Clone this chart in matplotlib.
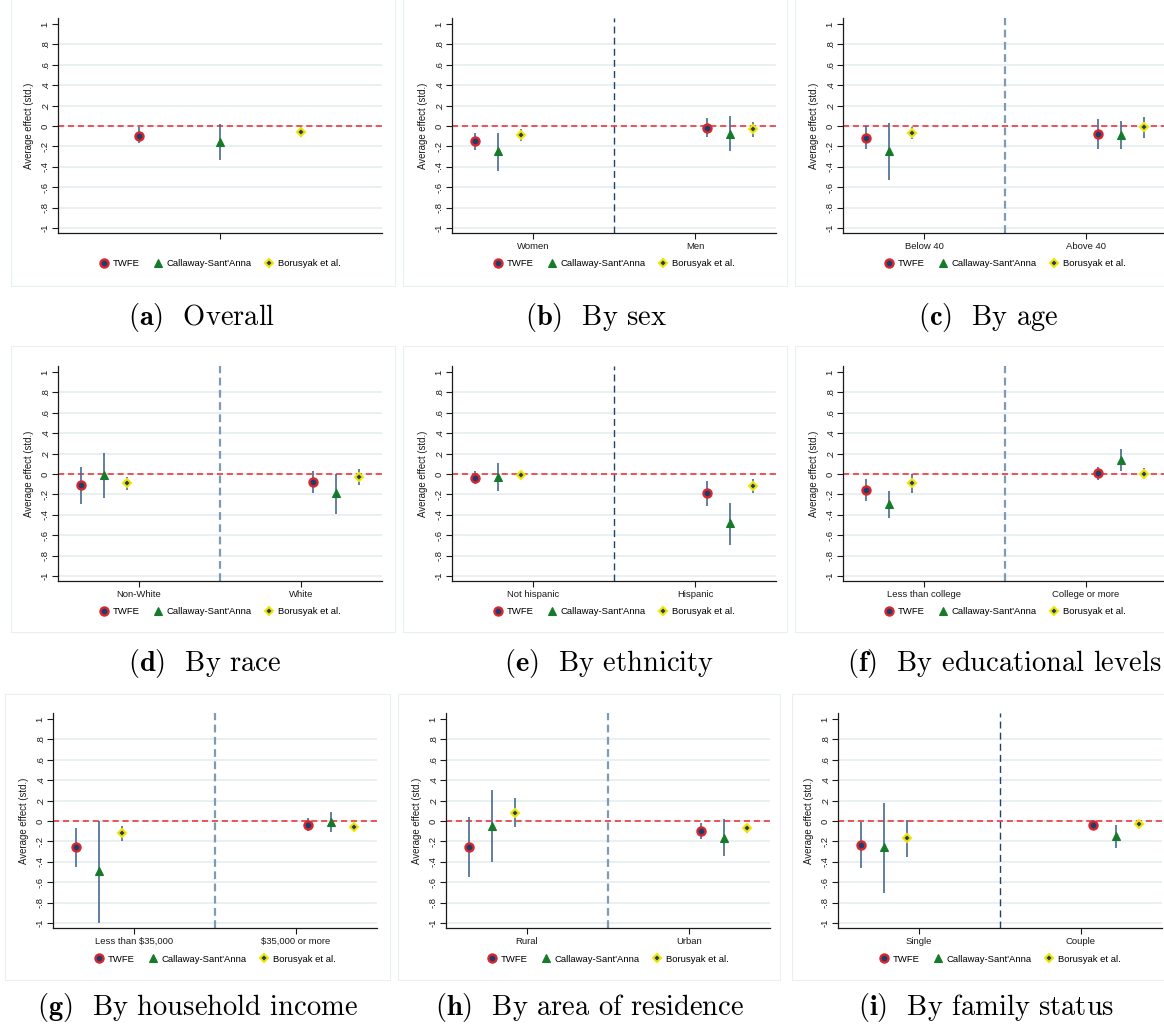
import numpy as np
import matplotlib.pyplot as plt
from matplotlib.lines import Line2D
from matplotlib.patches import Rectangle

plt.rcParams['font.family'] = 'Liberation Sans'
plt.rcParams['mathtext.fontset'] = 'cm'

# panel letters, captions and the subgroup on each side of the split
letters = ['a', 'b', 'c', 'd', 'e', 'f', 'g', 'h', 'i']
captions = ['Overall', 'By sex', 'By age', 'By race', 'By ethnicity',
            'By educational levels', 'By household income',
            'By area of residence', 'By family status']
groups = [[''], ['Women', 'Men'], ['Below 40', 'Above 40'],
          ['Non-White', 'White'], ['Not hispanic', 'Hispanic'],
          ['Less than college', 'College or more'],
          ['Less than $35,000', '$35,000 or more'],
          ['Rural', 'Urban'], ['Single', 'Couple']]

# TWFE estimates with 95% CI bounds
twfe_b = [[-0.095], [-0.148, -0.016], [-0.115, -0.079], [-0.112, -0.082],
          [-0.040, -0.187], [-0.158, 0.007], [-0.258, -0.036],
          [-0.255, -0.095], [-0.238, -0.039]]
twfe_lo = [[-0.170], [-0.233, -0.108], [-0.230, -0.230], [-0.290, -0.190],
           [-0.100, -0.310], [-0.266, -0.060], [-0.448, -0.098],
           [-0.552, -0.176], [-0.464, -0.092]]
twfe_hi = [[-0.010], [-0.070, 0.079], [-0.003, 0.069], [0.072, 0.030],
           [0.033, -0.066], [-0.053, 0.072], [-0.072, 0.033],
           [0.042, -0.016], [-0.013, 0.010]]

# Callaway-Sant'Anna
cs_b = [[-0.160], [-0.250, -0.075], [-0.246, -0.090], [-0.010, -0.190],
        [-0.026, -0.480], [-0.296, 0.138], [-0.490, -0.005],
        [-0.046, -0.163], [-0.255, -0.147]]
cs_lo = [[-0.335], [-0.446, -0.246], [-0.534, -0.230], [-0.240, -0.388],
         [-0.168, -0.694], [-0.428, 0.030], [-0.997, -0.105],
         [-0.400, -0.346], [-0.703, -0.268]]
cs_hi = [[0.015], [-0.066, 0.095], [0.033, 0.046], [0.210, -0.003],
         [0.105, -0.280], [-0.168, 0.247], [0.003, 0.090],
         [0.304, 0.016], [0.180, -0.039]]

# Borusyak et al.
bjs_b = [[-0.055], [-0.085, -0.033], [-0.069, -0.010], [-0.092, -0.033],
         [-0.013, -0.118], [-0.092, 0.003], [-0.121, -0.062],
         [0.078, -0.069], [-0.167, -0.033]]
bjs_lo = [[-0.105], [-0.144, -0.108], [-0.128, -0.115], [-0.158, -0.108],
          [-0.053, -0.190], [-0.190, -0.050], [-0.196, -0.098],
          [-0.062, -0.114], [-0.350, -0.072]]
bjs_hi = [[-0.005], [-0.033, 0.040], [-0.010, 0.092], [-0.026, 0.046],
          [0.023, -0.050], [0.000, 0.056], [-0.046, -0.030],
          [0.222, -0.033], [0.010, -0.013]]

W, H = 1164, 1026
fig = plt.figure(figsize=(W / 100, H / 100), dpi=100)

# plot-region corners (left, top) in pixels
ax_pos = [(58, 18), (452, 18), (843, 18),
          (58, 366), (452, 366), (843, 366),
          (53, 713), (446, 713), (838, 713)]
AX_W, AX_H = 324, 215
# outer graph frames (x0, y0, x1, y1)
frames = [(11, -2, 395, 286), (403, -2, 787, 286), (795, -2, 1182, 286),
          (11, 346, 395, 632), (403, 346, 787, 632), (795, 346, 1182, 632),
          (5, 694, 390, 980), (398, 694, 780, 980), (792, 694, 1177, 980)]
cap_pos = [(202, 318), (596, 318), (988, 318),
           (205, 663), (609, 663), (1004, 663),
           (197, 1008), (590, 1008), (986, 1008)]
# separator look per panel
vline_style = [None, 'dark', 'light', 'light', 'dark', 'light',
               'light', 'light', 'dark']

NAVY = '#1c3d6e'
BAR = '#48698f'
RED = '#e8292d'
GREEN = '#157a2a'
YELLOW = '#f2e500'

yt = np.round(np.arange(-1, 1.01, 0.2), 1)


def ylab(v):
    if v == 0:
        return '0'
    s = f'{v:g}'
    return s.replace('0.', '.')


def marker_style(kind):
    if kind == 'twfe':
        return dict(marker='o', ms=5.8, mfc=NAVY, mec='#d9272e', mew=1.7)
    if kind == 'cs':
        return dict(marker='^', ms=5.5, mfc=GREEN, mec=GREEN, mew=0.8)
    return dict(marker='D', ms=4.5, mfc=NAVY, mec=YELLOW, mew=1.5)


for k in range(9):
    fx0, fy0, fx1, fy1 = frames[k]
    fig.add_artist(Rectangle((fx0 / W, 1 - fy1 / H), (fx1 - fx0) / W,
                             (fy1 - fy0) / H, transform=fig.transFigure,
                             fill=False, ec='#e9eef0', lw=0.8))

    left, top = ax_pos[k]
    ax = fig.add_axes([left / W, 1 - (top + AX_H) / H, AX_W / W, AX_H / H])
    ax.set_xlim(0, 4)
    ax.set_ylim(-1.05, 1.06)

    for v in yt[:-1]:
        ax.axhline(v, color='#e7eff1', lw=1.3, zorder=0)
    ax.axhline(0, color=RED, lw=1.1, ls=(0, (4, 2.5)), zorder=1.5)

    if len(groups[k]) == 1:
        xs = [[1.0], [2.0], [3.0]]
        ax.set_xticks([2])
        ax.set_xticklabels([''])
    else:
        xs = [[0.29, 3.15], [0.57, 3.43], [0.85, 3.71]]
        ax.set_xticks([1, 3])
        ax.set_xticklabels(groups[k])
        if vline_style[k] == 'dark':
            ax.axvline(2, color='#1f446b', lw=1.0, ls=(0, (5, 3)), zorder=1)
        else:
            ax.axvline(2, color='#7f9bb4', lw=1.6, ls=(0, (3.5, 2)), zorder=1)

    series = [(twfe_b, twfe_lo, twfe_hi, 'twfe'),
              (cs_b, cs_lo, cs_hi, 'cs'),
              (bjs_b, bjs_lo, bjs_hi, 'bjs')]
    for (b, lo, hi, kind), x in zip(series, xs):
        ax.vlines(x, lo[k], hi[k], color=BAR, lw=1.2, zorder=2)
        ax.plot(x, b[k], ls='none', zorder=3, **marker_style(kind))

    ax.set_yticks(yt)
    ax.set_yticklabels([ylab(v) for v in yt])
    for lab in ax.get_yticklabels():
        lab.set_rotation(90)
        lab.set_va('center')
    ax.tick_params(axis='both', labelsize=6.8, length=4.5, width=0.8,
                   color='#1a1a1a', labelcolor='#1a1a1a')
    ax.tick_params(axis='y', pad=1.5)
    ax.tick_params(axis='x', pad=2)
    ax.set_ylabel('Average effect (std.)', fontsize=6.9, color='#1a1a1a')
    ax.yaxis.set_label_coords(-24 / AX_W, 0.5)

    for side in ['top', 'right']:
        ax.spines[side].set_visible(False)
    for side in ['left', 'bottom']:
        ax.spines[side].set_color('#1a1a1a')
        ax.spines[side].set_linewidth(0.9)

    handles = [Line2D([], [], ls='none', **marker_style('twfe')),
               Line2D([], [], ls='none', **marker_style('cs')),
               Line2D([], [], ls='none', **marker_style('bjs'))]
    ax.legend(handles, ['TWFE', "Callaway-Sant'Anna", 'Borusyak et al.'],
              loc='center', bbox_to_anchor=(0.5, -31 / AX_H), ncol=3,
              frameon=False, fontsize=6.8, handlelength=1.0,
              handletextpad=0.4, columnspacing=1.4, borderaxespad=0)

    cx, cy = cap_pos[k]
    fig.text(cx / W, 1 - cy / H, rf'$\mathbf{{({letters[k]})}}$  {captions[k]}',
             fontsize=20.5, family='cmr10', ha='center', va='center')

fig.savefig('out.png', dpi=100)
